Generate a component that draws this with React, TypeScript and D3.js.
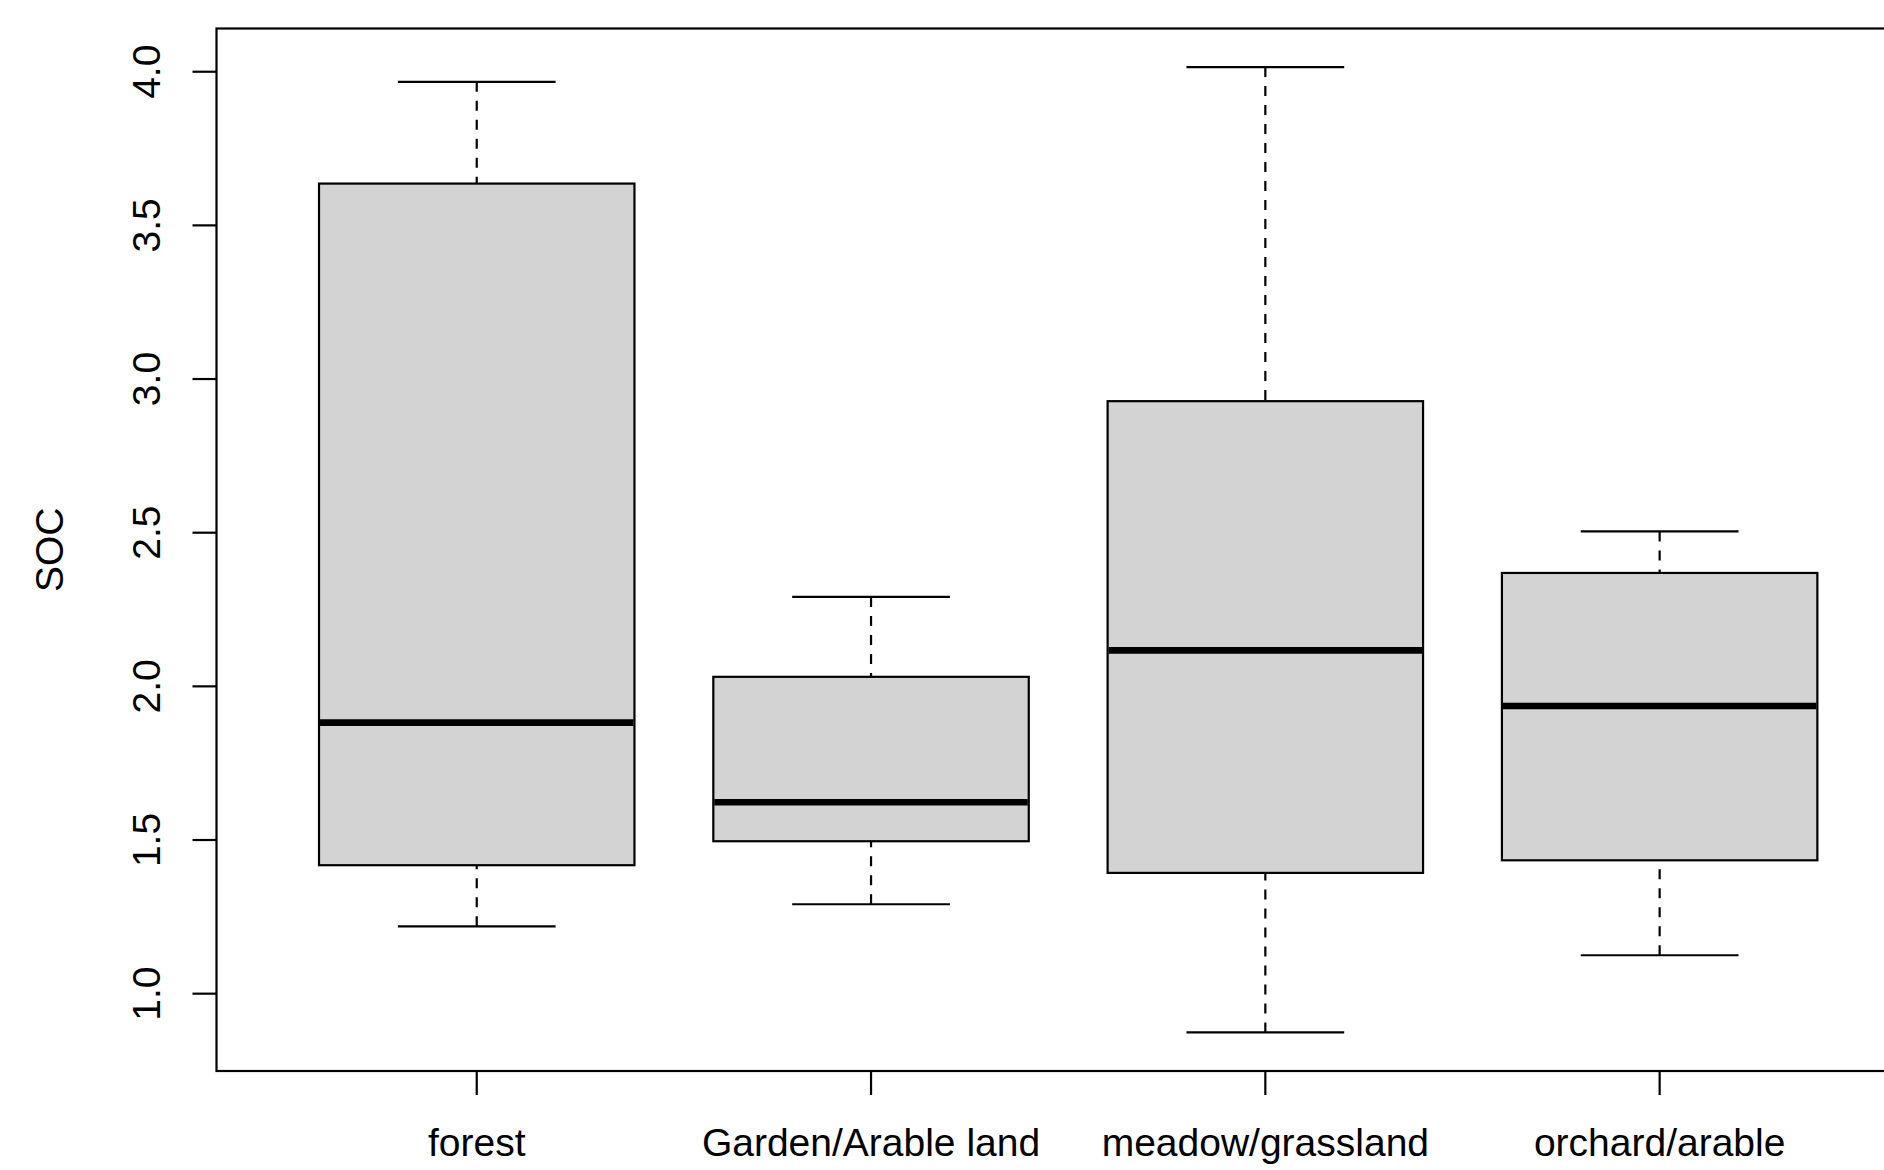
import React, { useEffect, useRef } from 'react';
import * as d3 from 'd3';

const categories = ['forest', 'Garden/Arable land', 'meadow/grassland', 'orchard/arable'];
const whiskerLow = [1.219, 1.291, 0.874, 1.125];
const lowerQuartile = [1.418, 1.496, 1.393, 1.434];
const medians = [1.882, 1.623, 2.117, 1.936];
const upperQuartile = [3.636, 2.031, 2.928, 2.369];
const whiskerHigh = [3.967, 2.291, 4.015, 2.504];
const yTicks = [1.0, 1.5, 2.0, 2.5, 3.0, 3.5, 4.0];
const yLabel = 'SOC';

const W = 1884;
const H = 1170;
const plot = { left: 216.5, top: 28.5, bottom: 1071 };
const unitWidth = 394.3;
const font = '"Liberation Sans", Arial, sans-serif';

const App = () => {
  const ref = useRef<SVGSVGElement | null>(null);

  useEffect(() => {
    const svg = d3.select(ref.current);
    svg.selectAll('*').remove();

    // R style axis padding: 4% on each side
    const n = categories.length;
    const xPad = (n + 0.5 - 0.5) * 0.04;
    const x = d3.scaleLinear()
      .domain([0.5 - xPad, n + 0.5 + xPad])
      .range([plot.left, plot.left + (n + 2 * xPad) * unitWidth]);

    const lo = d3.min(whiskerLow) as number;
    const hi = d3.max(whiskerHigh) as number;
    const yPad = (hi - lo) * 0.04;
    const y = d3.scaleLinear()
      .domain([lo - yPad, hi + yPad])
      .range([plot.bottom, plot.top]);

    const boxHalf = 0.4;
    const capHalf = 0.2;
    const lw = 2.2;

    const g = svg.append('g');

    categories.forEach((c, i) => {
      const pos = i + 1;
      // whiskers, dashed, from cap to hinge
      g.append('line')
        .attr('x1', x(pos)).attr('x2', x(pos))
        .attr('y1', y(whiskerHigh[i])).attr('y2', y(upperQuartile[i]))
        .attr('stroke', '#000').attr('stroke-width', lw)
        .attr('stroke-dasharray', '10,9');
      g.append('line')
        .attr('x1', x(pos)).attr('x2', x(pos))
        .attr('y1', y(whiskerLow[i])).attr('y2', y(lowerQuartile[i]))
        .attr('stroke', '#000').attr('stroke-width', lw)
        .attr('stroke-dasharray', '10,9');
      // staples
      [whiskerHigh[i], whiskerLow[i]].forEach(v => {
        g.append('line')
          .attr('x1', x(pos - capHalf)).attr('x2', x(pos + capHalf))
          .attr('y1', y(v)).attr('y2', y(v))
          .attr('stroke', '#000').attr('stroke-width', lw);
      });
      // box
      g.append('rect')
        .attr('x', x(pos - boxHalf))
        .attr('y', y(upperQuartile[i]))
        .attr('width', x(pos + boxHalf) - x(pos - boxHalf))
        .attr('height', y(lowerQuartile[i]) - y(upperQuartile[i]))
        .attr('fill', '#d3d3d3')
        .attr('stroke', '#000').attr('stroke-width', lw);
      // median
      g.append('line')
        .attr('x1', x(pos - boxHalf) + 1).attr('x2', x(pos + boxHalf) - 1)
        .attr('y1', y(medians[i])).attr('y2', y(medians[i]))
        .attr('stroke', '#000').attr('stroke-width', 6.6);
    });

    // frame
    g.append('rect')
      .attr('x', x(0.5 - xPad))
      .attr('y', plot.top)
      .attr('width', x(n + 0.5 + xPad) - x(0.5 - xPad))
      .attr('height', plot.bottom - plot.top)
      .attr('fill', 'none')
      .attr('stroke', '#000').attr('stroke-width', lw);

    // y axis ticks + labels
    const tickLen = 24;
    yTicks.forEach(t => {
      g.append('line')
        .attr('x1', plot.left - tickLen).attr('x2', plot.left)
        .attr('y1', y(t)).attr('y2', y(t))
        .attr('stroke', '#000').attr('stroke-width', lw);
      g.append('text')
        .attr('transform', `translate(${plot.left - 57}, ${y(t)}) rotate(-90)`)
        .attr('text-anchor', 'middle')
        .style('font-family', font)
        .style('font-size', '39px')
        .attr('fill', '#000')
        .text(t.toFixed(1));
    });

    // x axis ticks + labels
    categories.forEach((c, i) => {
      const pos = i + 1;
      g.append('line')
        .attr('x1', x(pos)).attr('x2', x(pos))
        .attr('y1', plot.bottom).attr('y2', plot.bottom + tickLen)
        .attr('stroke', '#000').attr('stroke-width', lw);
      g.append('text')
        .attr('x', x(pos))
        .attr('y', plot.bottom + 85)
        .attr('text-anchor', 'middle')
        .style('font-family', font)
        .style('font-size', '39px')
        .attr('fill', '#000')
        .text(c);
    });

    // y axis title
    g.append('text')
      .attr('transform', `translate(63, ${(plot.top + plot.bottom) / 2}) rotate(-90)`)
      .attr('text-anchor', 'middle')
      .style('font-family', font)
      .style('font-size', '39px')
      .attr('fill', '#000')
      .text(yLabel);
  }, []);

  return (
    <svg
      ref={ref}
      width={W}
      height={H}
      style={{ position: 'absolute', left: 0, top: 0, background: '#fff' }}
    />
  );
};

export default App;
